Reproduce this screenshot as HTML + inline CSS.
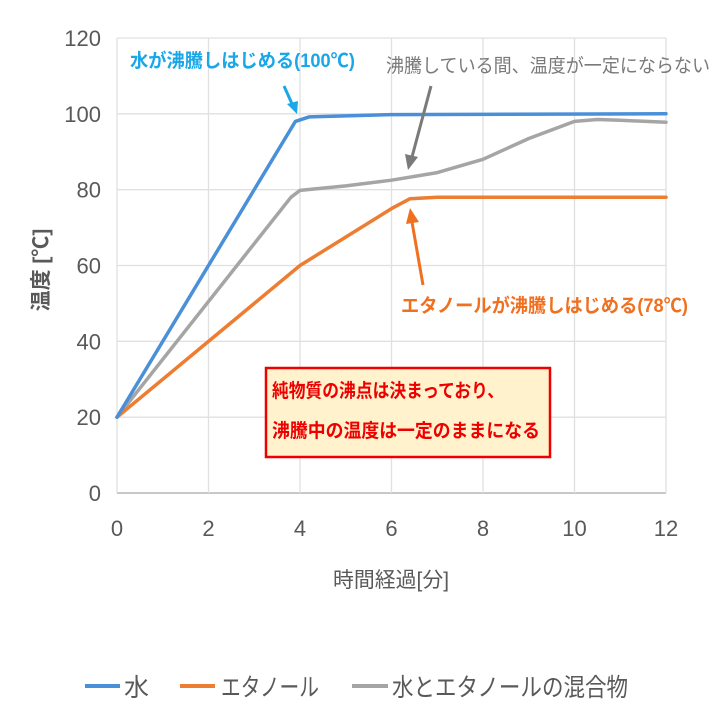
<!DOCTYPE html>
<html><head><meta charset="utf-8"><style>
body{margin:0;background:#fff}
svg{display:block;font-family:"Liberation Sans","Noto Sans CJK JP",sans-serif}
</style></head><body>
<svg width="720" height="720" viewBox="0 0 720 720" id="chart">
<g id="grid"></g>
<g id="axes"></g>
<g id="series"></g>
<text x="48" y="270" transform="rotate(-90 48 270)" text-anchor="middle" font-size="21" fill="#595959" font-weight="bold">温度 [℃]</text>
<text x="391" y="587" text-anchor="middle" font-size="21" fill="#595959" textLength="116" lengthAdjust="spacingAndGlyphs">時間経過[分]</text>

<text x="130" y="67" font-size="19" font-weight="bold" fill="#19a7e8" textLength="225" lengthAdjust="spacingAndGlyphs">水が沸騰しはじめる(100℃)</text>
<line x1="284" y1="86" x2="293" y2="106" stroke="#19a7e8" stroke-width="3"/>
<polygon points="297,114 287,104 298,101" fill="#19a7e8"/>

<text x="386" y="72" font-size="19" fill="#7a7a7a" textLength="324" lengthAdjust="spacingAndGlyphs">沸騰している間、温度が一定にならない</text>
<line x1="431" y1="86" x2="412" y2="157" stroke="#7a7a7a" stroke-width="3"/>
<polygon points="408,170 405,154 418,157" fill="#7a7a7a"/>

<text x="401" y="312" font-size="19" font-weight="bold" fill="#f07020" textLength="287" lengthAdjust="spacingAndGlyphs">エタノールが沸騰しはじめる(78℃)</text>
<line x1="423" y1="285" x2="412" y2="222" stroke="#f07020" stroke-width="3"/>
<polygon points="410,208 406,224 419,222" fill="#f07020"/>

<g>
<rect x="266" y="368" width="284" height="89" fill="#fff2cc" stroke="#ee0000" stroke-width="2.5"/>
<text x="272" y="397" font-size="19" font-weight="bold" fill="#ee0000" textLength="232" lengthAdjust="spacingAndGlyphs">純物質の沸点は決まっており、</text>
<text x="272" y="437" font-size="19" font-weight="bold" fill="#ee0000" textLength="268" lengthAdjust="spacingAndGlyphs">沸騰中の温度は一定のままになる</text>
</g>

<g>
<line x1="85" y1="686" x2="120" y2="686" stroke="#4a90d9" stroke-width="4"/>
<text x="124" y="696" font-size="25" fill="#595959">水</text>
<line x1="180" y1="686" x2="215" y2="686" stroke="#ed7d31" stroke-width="4"/>
<text x="221" y="696" font-size="25" fill="#595959" textLength="98" lengthAdjust="spacingAndGlyphs">エタノール</text>
<line x1="352" y1="686" x2="388" y2="686" stroke="#a5a5a5" stroke-width="4"/>
<text x="392" y="696" font-size="25" fill="#595959" textLength="236" lengthAdjust="spacingAndGlyphs">水とエタノールの混合物</text>
</g>
</svg>
<script>
const xTicks=[0,2,4,6,8,10,12];
const yTicks=[0,20,40,60,80,100,120];
const waterX=[0,3.9,4.2,6,12];
const waterY=[20,98,99.2,99.8,100];
const ethanolX=[0,4,6,6.4,7,12];
const ethanolY=[20,60,75,77.6,78,78];
const mixX=[0,3.8,4,5,6,7,8,9,10,10.5,11,12];
const mixY=[20,78,79.8,81,82.5,84.5,88,93.5,98,98.5,98.3,97.8];
const NS="http://www.w3.org/2000/svg";
const X0=117,X1=666,Y0=493,Y1=38;
const sx=v=>X0+(v-0)/(12-0)*(X1-X0);
const sy=v=>Y0-(v-0)/(120-0)*(Y0-Y1);
function mk(t,a,p){const e=document.createElementNS(NS,t);for(const k in a)e.setAttribute(k,a[k]);p.appendChild(e);return e;}
const grid=document.getElementById('grid'),axes=document.getElementById('axes'),ser=document.getElementById('series');
yTicks.forEach(v=>{
  const l=mk('line',{x1:X0,x2:X1,y1:sy(v),y2:sy(v),stroke:v===0?'#c8c8c8':'#e0e0e0','stroke-width':v===0?2:1.3},grid);
  
  
  const t=mk('text',{x:X0-16,y:sy(v)+8,'text-anchor':'end','font-size':22,fill:'#595959'},axes);
  t.textContent=v;
  
  
});
xTicks.forEach(v=>{
  const l=mk('line',{x1:sx(v),x2:sx(v),y1:Y1,y2:Y0,stroke:'#e0e0e0','stroke-width':1.3},grid);
  
  
  const t=mk('text',{x:sx(v),y:536,'text-anchor':'middle','font-size':22,fill:'#595959'},axes);
  t.textContent=v;
  
  
});
function line(xs,ys,color,name){
  const pts=xs.map((x,i)=>sx(x).toFixed(1)+','+sy(ys[i]).toFixed(1)).join(' ');
  const p=mk('polyline',{points:pts,fill:'none',stroke:color,'stroke-width':3.5,'stroke-linejoin':'round','stroke-linecap':'round'},ser);
  
  
}
line(mixX,mixY,'#a5a5a5','mixture-line');
line(ethanolX,ethanolY,'#ed7d31','ethanol-line');
line(waterX,waterY,'#4a90d9','water-line');
</script>
</body></html>
